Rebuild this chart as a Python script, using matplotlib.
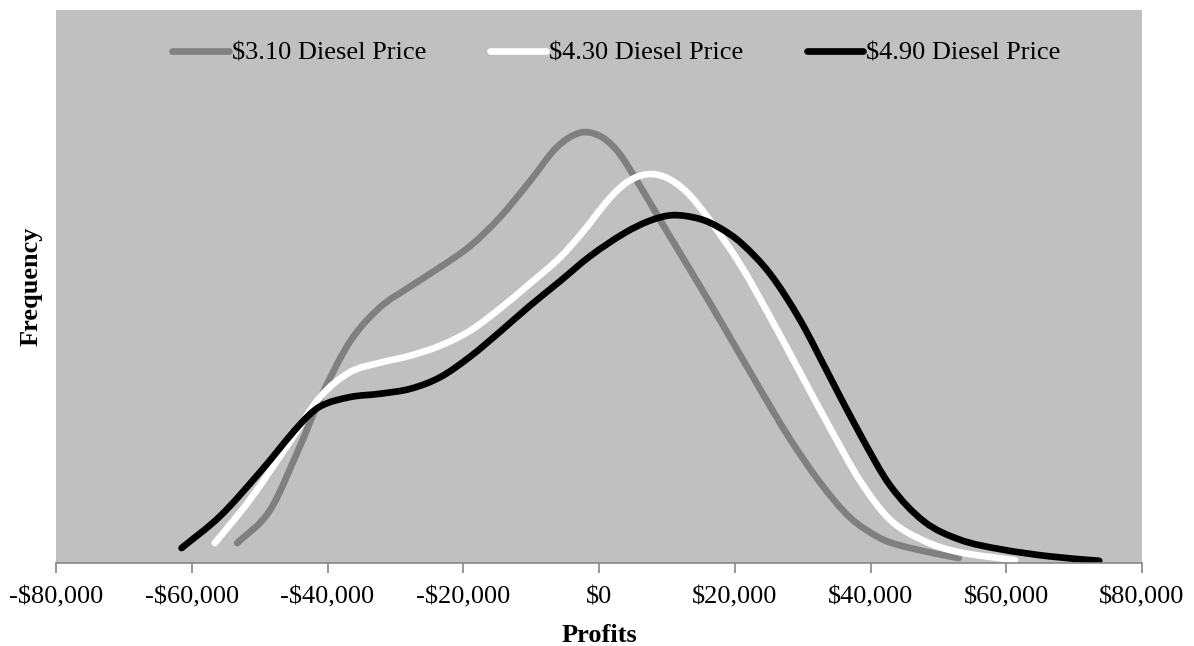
import matplotlib
matplotlib.use('Agg')
import matplotlib.pyplot as plt
from matplotlib.path import Path
from matplotlib.patches import PathPatch
from matplotlib.lines import Line2D
from matplotlib.ticker import FuncFormatter, MultipleLocator
import numpy as np

# Profit values (x) and relative frequency (y)
profit_310 = [-53300, -48500, -44100, -41100, -36700, -32300, -27800, -23400,
              -19000, -14600, -10200, -6200, -2800, 0, 2500, 5000, 9400, 14900,
              19300, 23700, 28100, 32600, 37000, 41400, 44300, 49200, 53000]
freq_310 = [0.036, 0.095, 0.21, 0.297, 0.40, 0.462, 0.50, 0.535,
            0.573, 0.625, 0.69, 0.752, 0.778, 0.773, 0.748, 0.703, 0.612, 0.50,
            0.408, 0.315, 0.225, 0.145, 0.082, 0.045, 0.032, 0.018, 0.009]

profit_430 = [-56600, -51400, -45500, -41100, -36700, -32300, -27800, -23400,
              -19000, -14600, -10200, -5700, -2300, 1600, 4300, 7100, 9900,
              12900, 16200, 20800, 25200, 29600, 34000, 38500, 42900, 47900,
              52900, 61300]
freq_430 = [0.036, 0.115, 0.22, 0.30, 0.345, 0.362, 0.375, 0.393,
            0.42, 0.46, 0.505, 0.553, 0.600, 0.660, 0.690, 0.703, 0.697,
            0.671, 0.622, 0.54, 0.445, 0.345, 0.245, 0.148, 0.078, 0.04,
            0.02, 0.005]

profit_490 = [-61500, -55800, -49900, -44100, -41100, -36700, -32300, -27800,
              -23400, -19000, -14600, -10200, -5700, -1300, 3800, 7500, 10900,
              14900, 17800, 21000, 25200, 29600, 34000, 38500, 42900, 47900,
              53200, 59100, 66400, 73700]
freq_490 = [0.027, 0.085, 0.165, 0.25, 0.283, 0.30, 0.306, 0.315,
            0.336, 0.373, 0.418, 0.465, 0.51, 0.555, 0.597, 0.619, 0.629,
            0.622, 0.606, 0.578, 0.523, 0.44, 0.337, 0.232, 0.14, 0.075,
            0.042, 0.025, 0.012, 0.004]

labels = ['$3.10 Diesel Price', '$4.30 Diesel Price', '$4.90 Diesel Price']
colors = ['#808080', '#ffffff', '#000000']

plt.rcParams['font.family'] = ['Liberation Serif', 'DejaVu Serif']

def smooth_path(xs, ys):
    # smoothed line through the points, cubic Bezier segments with x-based tangents
    x = np.asarray(xs, float)
    y = np.asarray(ys, float)
    n = len(x)
    m = np.zeros(n)
    m[1:-1] = (y[2:] - y[:-2]) / (x[2:] - x[:-2])
    m[0] = (y[1] - y[0]) / (x[1] - x[0])
    m[-1] = (y[-1] - y[-2]) / (x[-1] - x[-2])
    verts = [(x[0], y[0])]
    codes = [Path.MOVETO]
    for i in range(n - 1):
        dx = x[i + 1] - x[i]
        verts += [(x[i] + dx / 3, y[i] + m[i] * dx / 3),
                  (x[i + 1] - dx / 3, y[i + 1] - m[i + 1] * dx / 3),
                  (x[i + 1], y[i + 1])]
        codes += [Path.CURVE4] * 3
    return Path(verts, codes)

fig = plt.figure(figsize=(11.94, 6.46), dpi=100)
ax = fig.add_axes([56/1194, 83/646, 1086/1194, 553/646])
ax.set_facecolor('#c0c0c0')

lw = 4.8
series = [(profit_310, freq_310), (profit_430, freq_430), (profit_490, freq_490)]
for (xs, ys), col in zip(series, colors):
    patch = PathPatch(smooth_path(xs, ys), facecolor='none', edgecolor=col,
                      lw=lw, capstyle='round', joinstyle='round')
    ax.add_patch(patch)

ax.set_xlim(-80000, 80000)
ax.set_ylim(0, 1)
ax.xaxis.set_major_locator(MultipleLocator(20000))

def money(v, pos):
    s = '\\${:,.0f}'.format(abs(v))
    return '-' + s if v < 0 else s

ax.xaxis.set_major_formatter(FuncFormatter(money))
ax.tick_params(axis='x', direction='out', length=7, width=1.2, color='#868686',
               labelsize=19, pad=10)
ax.set_yticks([])
for s in ['top', 'right', 'left']:
    ax.spines[s].set_visible(False)
ax.spines['bottom'].set_color('#868686')
ax.spines['bottom'].set_linewidth(1.2)

ax.set_xlabel('Profits', fontsize=19, fontweight='bold', labelpad=11)
ax.set_ylabel('Frequency', fontsize=19, fontweight='bold', labelpad=10)

handles = [Line2D([], [], color=c, lw=lw, solid_capstyle='round') for c in colors]
ax.legend(handles, [l.replace('$', '\\$') for l in labels], ncol=3, loc='center',
          bbox_to_anchor=(0.516, 0.922), frameon=False, fontsize=19,
          handlelength=2.15, handletextpad=0.1, columnspacing=2.4)

plt.savefig('out.png', dpi=100)
